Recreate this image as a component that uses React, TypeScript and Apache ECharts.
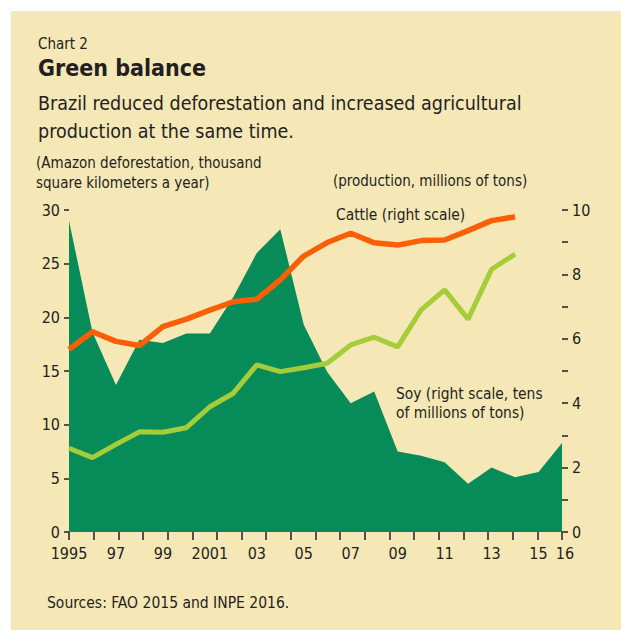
import React, { useEffect, useRef } from "react";
import * as echarts from "echarts";

const years = [1995, 1996, 1997, 1998, 1999, 2000, 2001, 2002, 2003, 2004, 2005, 2006, 2007, 2008, 2009, 2010, 2011, 2012, 2013, 2014, 2015, 2016];
const deforestation = [29.0, 18.6, 13.7, 17.9, 17.6, 18.5, 18.5, 21.9, 26.0, 28.2, 19.3, 14.9, 12.0, 13.1, 7.5, 7.1, 6.5, 4.5, 6.0, 5.1, 5.6, 8.3];
const lineYears = [1995, 1996, 1997, 1998, 1999, 2000, 2001, 2002, 2003, 2004, 2005, 2006, 2007, 2008, 2009, 2010, 2011, 2012, 2013, 2014];
const cattle = [5.67, 6.22, 5.92, 5.79, 6.38, 6.61, 6.89, 7.15, 7.23, 7.83, 8.57, 8.99, 9.28, 8.98, 8.91, 9.05, 9.07, 9.36, 9.67, 9.79];
const soy = [2.6, 2.31, 2.72, 3.11, 3.1, 3.24, 3.89, 4.31, 5.19, 4.98, 5.1, 5.24, 5.81, 6.05, 5.75, 6.9, 7.52, 6.61, 8.16, 8.63];
const xLabelYears = [1995, 1997, 1999, 2001, 2003, 2005, 2007, 2009, 2011, 2013, 2015, 2016];
const xLabelTexts = ["1995", "97", "99", "2001", "03", "05", "07", "09", "11", "13", "15", "16"];

const FONT = "'Liberation Sans Narrow', 'DejaVu Sans Condensed', 'Roboto Condensed', 'Arial Narrow', Roboto, sans-serif";
const INK = "#231f20";

export default function App() {
  const ref = useRef<HTMLDivElement>(null);
  useEffect(() => {
    document.body.style.margin = "0";
    const chart = echarts.init(ref.current!, undefined, { renderer: "svg" });
    const txt = (text: string, x: number, y: number, size: number, extra: any = {}) => ({
      type: "text",
      x,
      y,
      style: {
        text,
        fontFamily: FONT,
        fontSize: size,
        fill: INK,
        verticalAlign: "top",
        ...extra,
      },
    });
    chart.setOption({
      animation: false,
      textStyle: { fontFamily: FONT },
      grid: { left: 69, right: 59, top: 210, bottom: 98, containLabel: false },
      xAxis: [
        {
          type: "value",
          position: "bottom",
          min: 1995,
          max: 2016,
          interval: 1,
          axisLine: { show: false },
          axisTick: { show: false },
          splitLine: { show: false },
          axisLabel: {
            margin: 13,
            fontFamily: FONT,
            fontSize: 16,
            color: INK,
            formatter: (v: number) => {
              const i = xLabelYears.indexOf(v);
              if (i < 0) return "";
              return v === 2016 ? "{r|" + xLabelTexts[i] + "}" : xLabelTexts[i];
            },
            rich: { r: { fontFamily: FONT, fontSize: 16, color: INK, padding: [0, 0, 0, 6] } },
          },
        },
        {
          type: "value",
          position: "bottom",
          min: 0,
          max: 20,
          interval: 1,
          axisLine: { show: false },
          axisTick: { show: true, length: 8, lineStyle: { color: INK, width: 1.5 } },
          axisLabel: { show: false },
          splitLine: { show: false },
        },
      ],
      yAxis: [
        {
          type: "value",
          position: "left",
          min: 0,
          max: 30,
          interval: 5,
          axisLine: { show: false },
          axisTick: { show: true, length: 5, lineStyle: { color: INK, width: 1.5 } },
          splitLine: { show: false },
          axisLabel: { margin: 9, fontFamily: FONT, fontSize: 16, color: INK },
        },
        {
          type: "value",
          position: "right",
          min: 0,
          max: 10,
          interval: 1,
          axisLine: { show: false },
          axisTick: { show: true, length: 6, lineStyle: { color: INK, width: 1.5 } },
          splitLine: { show: false },
          axisLabel: {
            margin: 10,
            fontFamily: FONT,
            fontSize: 16,
            color: INK,
            formatter: (v: number) => (v % 2 === 0 ? String(v) : ""),
          },
        },
      ],
      series: [
        {
          name: "Deforestation",
          type: "line",
          xAxisIndex: 0,
          yAxisIndex: 0,
          data: years.map((y, i) => [y, deforestation[i]]),
          showSymbol: false,
          lineStyle: { width: 0 },
          areaStyle: { color: "#078c59", opacity: 1 },
          z: 1,
        },
        {
          name: "Cattle",
          type: "line",
          xAxisIndex: 0,
          yAxisIndex: 1,
          data: lineYears.map((y, i) => [y, cattle[i]]),
          showSymbol: false,
          lineStyle: { width: 5.5, color: "#ff5f00" },
          z: 3,
        },
        {
          name: "Soy",
          type: "line",
          xAxisIndex: 0,
          yAxisIndex: 1,
          data: lineYears.map((y, i) => [y, soy[i]]),
          showSymbol: false,
          lineStyle: { width: 5, color: "#a4cd39" },
          z: 2,
        },
      ],
      graphic: [
        txt("Chart 2", 38, 36, 15),
        txt("Green balance", 38, 56, 23, { fontWeight: "bold" }),
        txt("Brazil reduced deforestation and increased agricultural\nproduction at the same time.", 38, 89, 19.5, { lineHeight: 28 }),
        txt("(Amazon deforestation, thousand\nsquare kilometers a year)", 36, 153, 15, { lineHeight: 20 }),
        txt("(production, millions of tons)", 333, 173, 15),
        txt("Cattle (right scale)", 336, 207, 15.4),
        txt("Soy (right scale, tens\nof millions of tons)", 396, 384, 15.4, { lineHeight: 19 }),
        txt("Deforestation (left scale)", 168, 494, 16, { fill: "#ffffff" }),
        txt("Sources: FAO 2015 and INPE 2016.", 47, 595, 15.5),
      ],
    });
    return () => chart.dispose();
  }, []);
  return (
    <div style={{ position: "relative", width: 621, height: 630, background: "#ffffff" }}>
      <div style={{ position: "absolute", left: 11, top: 11, width: 610, height: 619, background: "#f6e7b6" }} />
      <div ref={ref} style={{ position: "absolute", left: 0, top: 0, width: 621, height: 630 }} />
    </div>
  );
}
